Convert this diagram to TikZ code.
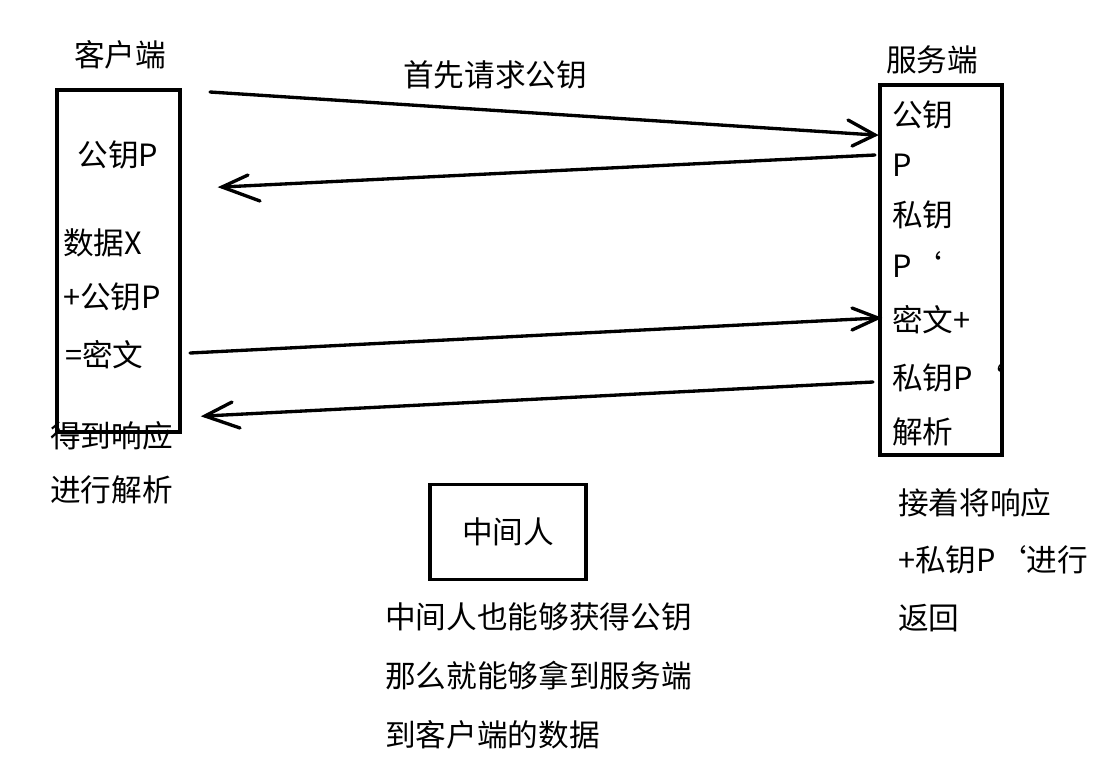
\documentclass[tikz,border=0pt]{standalone}
\usepackage{fontspec}
\setmainfont{Noto Sans CJK SC}
\begin{document}
\begin{tikzpicture}[x=0.75pt,y=-0.75pt,
  lbl/.style={inner sep=0pt,font=\fontsize{23}{28}\selectfont},
  ll/.style={lbl,anchor=west},
  box/.style={draw,line width=2.5pt},
  hand/.style={line width=2.5pt,line cap=round}]
\useasboundingbox (0,0) rectangle (1120,776);
\draw[box] (57,90) rectangle (180,432);
\draw[box] (880,85) rectangle (1002,455);
\node[box,minimum width=117pt,minimum height=71pt] (mid) at (508,532) {};
\node[lbl] (mt) at (508,532) {中间人};
\node[lbl] (c) at (120,55) {客户端};
\node[lbl] (s) at (932,60) {服务端};
\node[lbl] (q) at (495,75) {首先请求公钥};
\node[lbl] (l1) at (118,155) {公钥P};
\node[ll] (l2) at (63,243) {数据X};
\node[ll] (l3) at (63,297) {+公钥P};
\node[ll] (l4) at (65,355) {=密文};
\node[ll] (l5) at (50,436) {得到响应};
\node[ll] (l6) at (50,490) {进行解析};
\foreach \t/\y [count=\i] in {公钥/115,P/165,私钥/215,P`/265,密文+/320,私钥P`/378,解析/432}
  \node[ll] (r\i) at (892,\y) {\t};
\node[ll] (b1) at (898,503) {接着将响应};
\node[ll] (b2) at (898,560) {+私钥P`进行};
\node[ll] (b3) at (898,618) {返回};
\node[ll] (m1) at (385,617) {中间人也能够获得公钥};
\node[ll] (m2) at (385,676) {那么就能够拿到服务端};
\node[ll] (m3) at (385,735) {到客户端的数据};
\coordinate (a1s) at (210,92); \coordinate (a1e) at (875,135);
\coordinate (a2s) at (875,155); \coordinate (a2e) at (222,187);
\coordinate (a3s) at (190,353); \coordinate (a3e) at (878,318);
\coordinate (a4s) at (873,382); \coordinate (a4e) at (205,416);
\draw[hand] (a1s) -- (a1e);
\draw[hand] (848,120) -- (a1e) -- (852,146);
\draw[hand] (a2s) -- (a2e);
\draw[hand] (248,175) -- (a2e) -- (260,201);
\draw[hand] (a3s) -- (a3e);
\draw[hand] (852,308) -- (a3e) -- (852,330);
\draw[hand] (a4s) -- (a4e);
\draw[hand] (232,402) -- (a4e) -- (240,428);
\end{tikzpicture}
\end{document}
